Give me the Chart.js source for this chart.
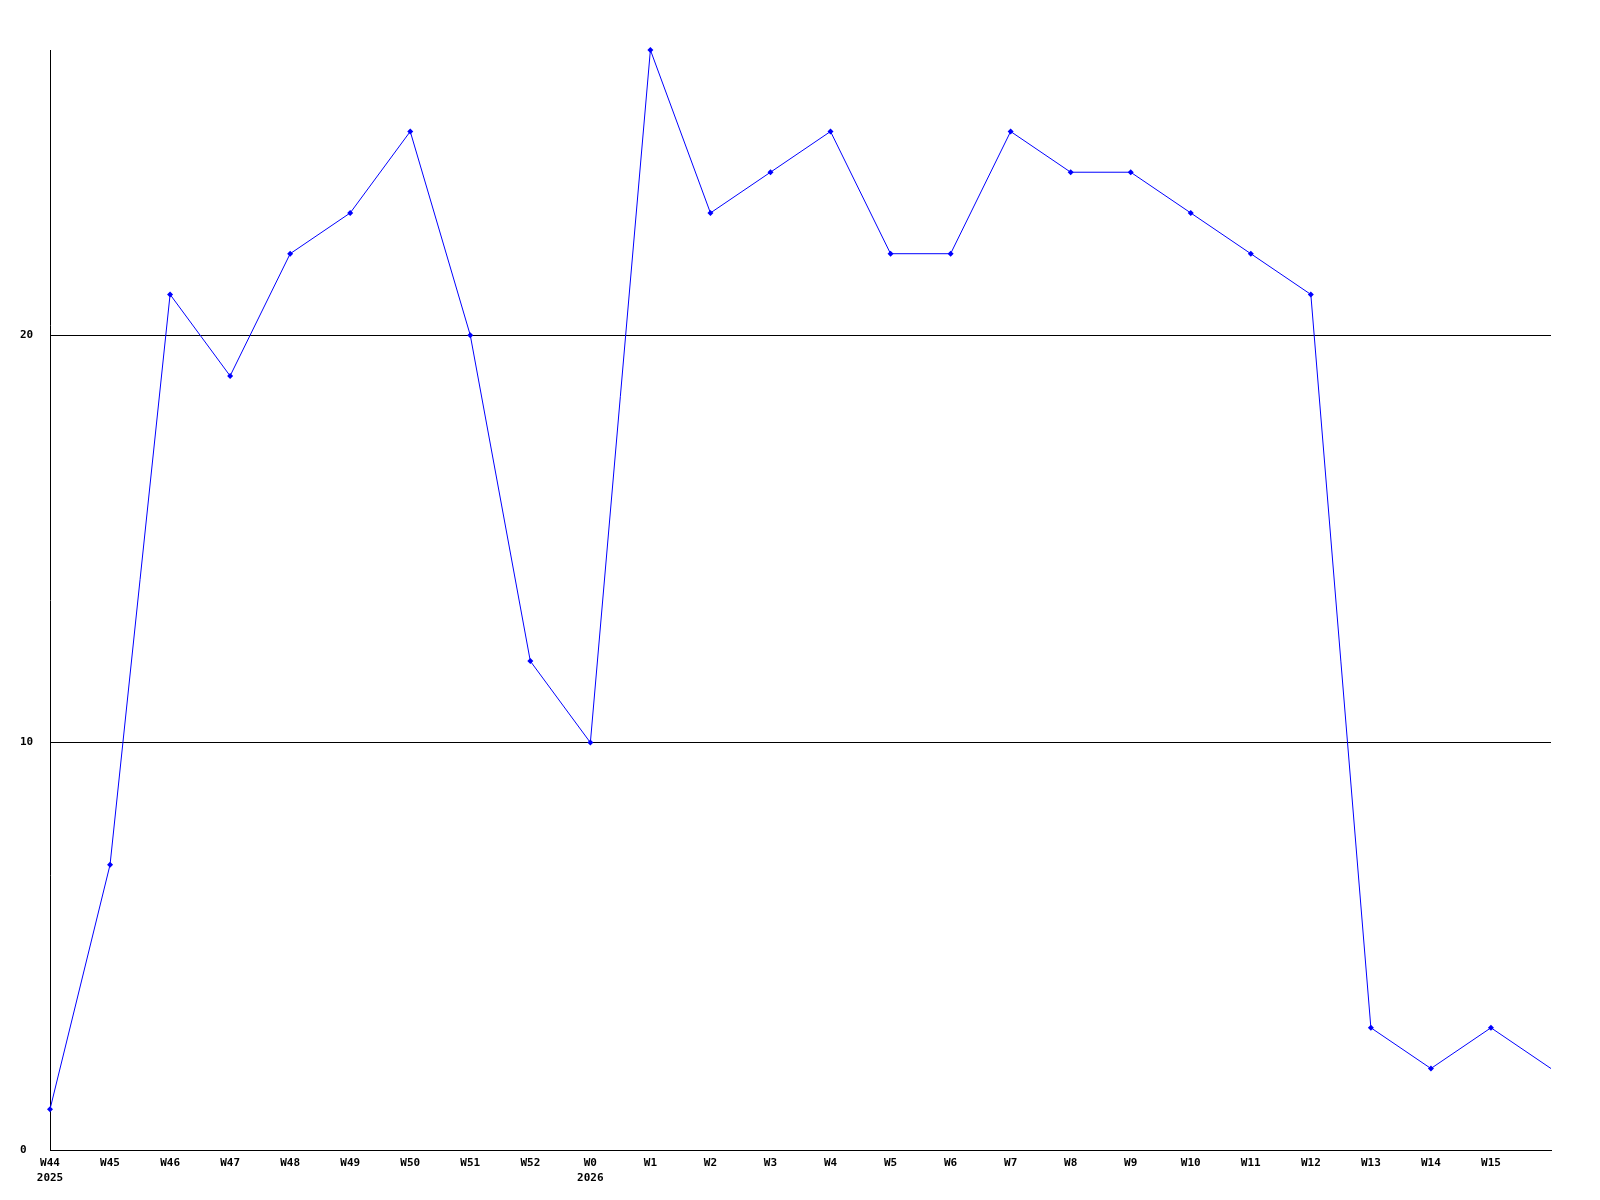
<!DOCTYPE html>
<html>
<head>
<meta charset="utf-8">
<script src="https://cdn.jsdelivr.net/npm/chart.js@4.4.1/dist/chart.umd.min.js"></script>
<style>
html,body{margin:0;padding:0;background:#fff;}
canvas{display:block;}
</style>
</head>
<body>
<canvas id="c" width="1600" height="1200"></canvas>
<script>
const weeks = ["W44","W45","W46","W47","W48","W49","W50","W51","W52","W0","W1","W2","W3","W4","W5","W6","W7","W8","W9","W10","W11","W12","W13","W14","W15",""];
const years = ["2025","","","","","","","","","2026","","","","","","","","","","","","","","","",""];
const values = [1,7,21,19,22,23,25,20,12,10,27,23,24,25,22,22,25,24,24,23,22,21,3,2,3,2];
const yTickValues = [0,10,20];
const yMax = 27;

const labels = weeks.map((w,i)=> years[i] ? [w, years[i]] : w);
const pointRadii = values.map((v,i)=> i === values.length-1 ? 0 : 3);

new Chart(document.getElementById('c'), {
  type: 'line',
  data: {
    labels: labels,
    datasets: [{
      data: values,
      borderColor: '#0000ff',
      backgroundColor: '#0000ff',
      borderWidth: 1,
      pointStyle: 'rectRot',
      pointRadius: pointRadii,
      pointBorderWidth: 0,
      tension: 0,
      clip: false
    }]
  },
  options: {
    responsive: false,
    animation: false,
    devicePixelRatio: 1,
    layout: { padding: { top: 50, right: 49, left: 20, bottom: 0 } },
    plugins: { legend: { display: false }, tooltip: { enabled: false } },
    scales: {
      x: {
        offset: false,
        grid: { display: false, drawTicks: false },
        border: { display: true, color: '#000', width: 1 },
        ticks: {
          autoSkip: false,
          maxRotation: 0,
          minRotation: 0,
          padding: 6,
          color: '#000',
          font: { family: '"DejaVu Sans Mono", monospace', size: 11, weight: 'bold', lineHeight: 1.36 }
        },
        afterFit: s => { s.height = 50; }
      },
      y: {
        min: 0,
        max: yMax,
        afterBuildTicks: s => { s.ticks = yTickValues.map(v => ({ value: v })); },
        grid: { color: '#000', lineWidth: 1, drawTicks: false },
        border: { display: true, color: '#000', width: 1 },
        ticks: {
          padding: 17,
          crossAlign: 'far',
          color: '#000',
          font: { family: '"DejaVu Sans Mono", monospace', size: 11, weight: 'bold' }
        },
        afterFit: s => { s.width = 30; }
      }
    }
  }
});
</script>
</body>
</html>
